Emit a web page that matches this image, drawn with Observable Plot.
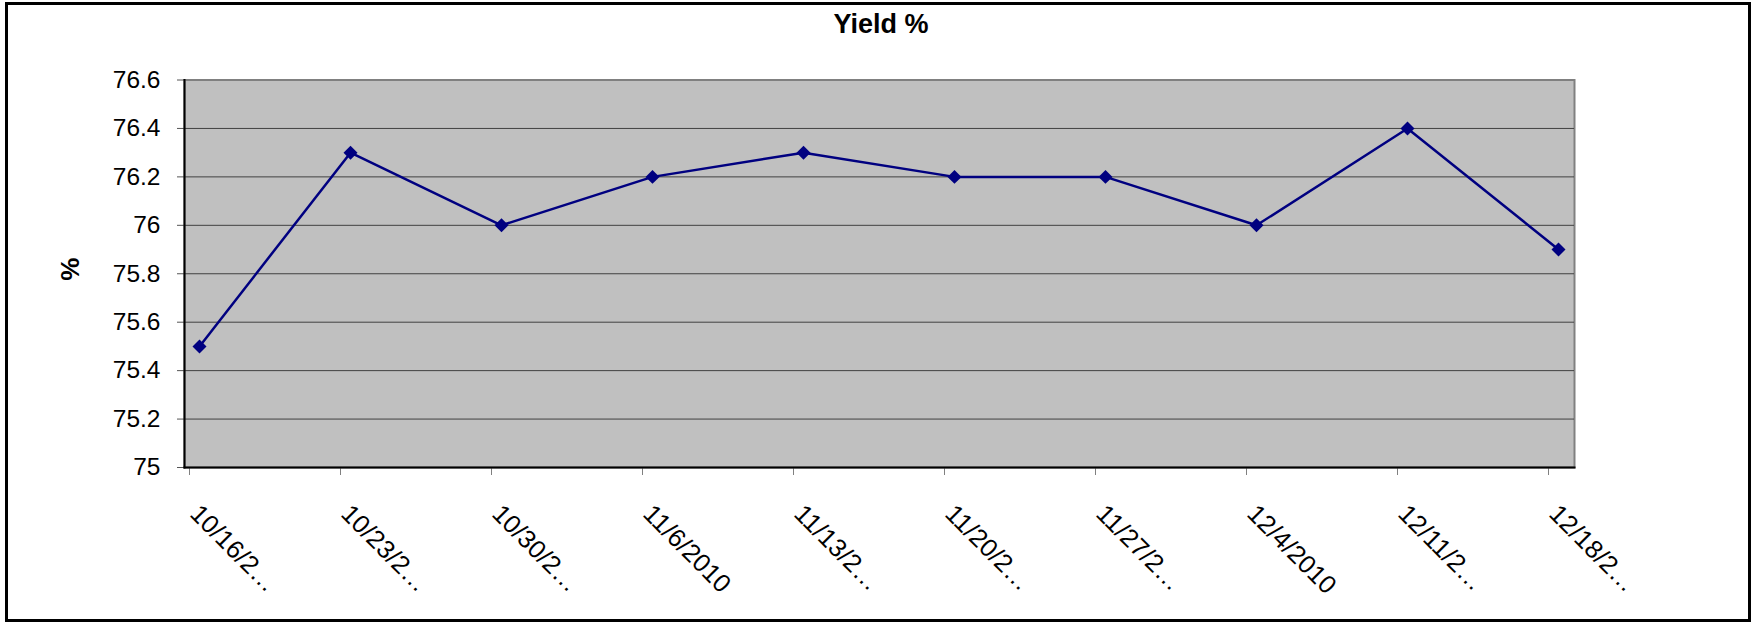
<!DOCTYPE html>
<html>
<head>
<meta charset="utf-8">
<script src="https://cdn.jsdelivr.net/npm/d3@7"></script>
<script src="https://cdn.jsdelivr.net/npm/@observablehq/plot@0.6"></script>
<style>
  html, body { margin: 0; padding: 0; background: #fff; }
  #wrap { position: relative; width: 1752px; height: 624px; overflow: hidden; font-family: "Liberation Sans", Arial, sans-serif; }
  #border { position: absolute; left: 5px; top: 2px; width: 1746px; height: 620px; border: 3px solid #000; box-sizing: border-box; pointer-events: none; }
  #title { position: absolute; left: 0; width: 1762px; top: 10px; text-align: center; font-weight: bold; font-size: 27px; line-height: 28px; color: #000; }
  #chart { position: absolute; left: 0; top: 0; }
</style>
</head>
<body>
<div id="wrap">
  <div id="chart"></div>
  <div id="title">Yield %</div>
  <div id="border"></div>
</div>
<script>
const labels = ["10/16/2…", "10/23/2…", "10/30/2…", "11/6/2010", "11/13/2…", "11/20/2…", "11/27/2…", "12/4/2010", "12/11/2…", "12/18/2…"];
const values = [75.5, 76.3, 76.0, 76.2, 76.3, 76.2, 76.2, 76.0, 76.4, 75.9];
const yTicks = [75, 75.2, 75.4, 75.6, 75.8, 76, 76.2, 76.4, 76.6];
const gridTicks = [75.2, 75.4, 75.6, 75.8, 76, 76.2, 76.4];

const data = labels.map((d, i) => ({label: d, value: values[i]}));

const font = "Liberation Sans, Arial, sans-serif";

const plot = Plot.plot({
  width: 1752,
  height: 624,
  marginLeft: 184,
  marginRight: 178,
  marginTop: 79.5,
  marginBottom: 157,
  style: {fontFamily: font, background: "transparent", color: "#000"},
  x: {type: "point", domain: labels, range: [195, 1561], padding: 0},
  y: {domain: [75, 76.6], range: [467, 79.5]},
  marks: [
    Plot.frame({fill: "#c0c0c0", stroke: "#808080", strokeWidth: 2}),
    Plot.gridY(gridTicks, {stroke: "#404040", strokeOpacity: 1, strokeWidth: 1}),
    Plot.axisY({ticks: yTicks, tickSize: 7, tickPadding: 17, fontSize: 24.5, stroke: "#555",
      tickFormat: d => String(+d.toFixed(1)), label: null}),
    Plot.axisX({tickSize: 8, dx: -10, stroke: "#808080", tickFormat: () => "", label: null}),
    Plot.frame({anchor: "left", stroke: "#000", strokeWidth: 2}),
    Plot.frame({anchor: "bottom", stroke: "#000", strokeWidth: 2}),
    Plot.text(labels, {x: d => d, frameAnchor: "bottom", dx: 2, dy: 35, rotate: 45,
      textAnchor: "start", lineAnchor: "top", fontSize: 25.5, fill: "#000"}),
    Plot.text(["%"], {frameAnchor: "left", dx: -114, dy: 7, rotate: -90, fontSize: 26, fontWeight: "bold", fill: "#000"}),
    Plot.line(data, {x: "label", y: "value", stroke: "#000080", strokeWidth: 2.5}),
    Plot.dot(data, {x: "label", y: "value", symbol: "diamond2", r: 6.3, fill: "#000080", stroke: "none"})
  ]
});
document.getElementById("chart").appendChild(plot);
</script>
</body>
</html>
